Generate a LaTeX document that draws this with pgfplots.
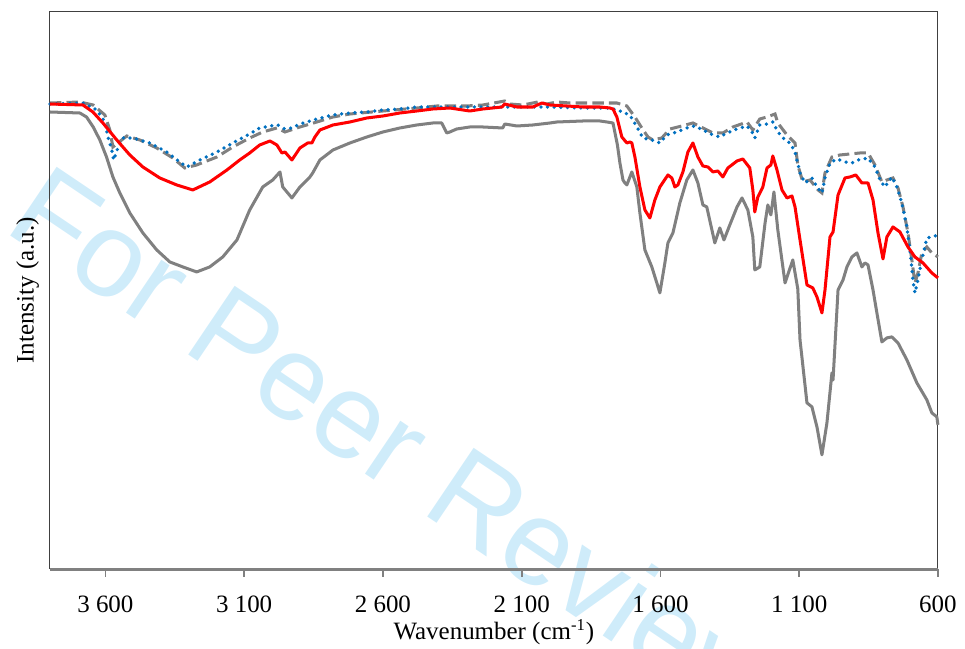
\documentclass[border=0pt]{standalone}
\usepackage{fontspec}
\setmainfont{Liberation Serif}
\newfontfamily\wmfont{Liberation Sans}
\usepackage{pgfplots}
\pgfplotsset{compat=1.18}
\definecolor{wmblue}{RGB}{207,236,250}
\definecolor{exblue}{RGB}{0,112,192}
\definecolor{exgray}{RGB}{128,128,128}
\begin{document}
\begin{tikzpicture}[font=\fontsize{12}{14}\selectfont]
\useasboundingbox (-24.0pt,-38.5pt) rectangle (440.0pt,273.5pt);
% watermark
\node[rotate=-34, anchor=base west, inner sep=0pt, text=wmblue,
      font=\fontsize{58}{62}\selectfont\wmfont] at (-23pt,163pt) {For Peer Review Only};
\begin{axis}[
  scale only axis, width=427pt, height=267.9pt,
  x dir=reverse, xmin=600, xmax=3800, ymin=0, ymax=557.4,
  axis line style={black!75, line width=0.5pt},
  xtick={600,1100,1600,2100,2600,3100,3600},
  xticklabels={600,1 100,1 600,2 100,2 600,3 100,3 600},
  xticklabel style={yshift=-5pt},
  ytick=\empty, xtick pos=bottom, tick align=outside,
  major tick length=3.8pt,
  every tick/.style={exgray, line width=0.8pt},
  /pgf/number format/assume math mode=true,
  xlabel={Wavenumber (cm\textsuperscript{-1})},
  ylabel={Intensity (a.u.)},
  xlabel style={at={(axis description cs:0.5,-0.113)}, anchor=center},
  ylabel style={at={(axis description cs:-0.025,0.5)}, anchor=center},
  clip=false,
  line width=1.45pt,
]
% sample 1 (solid gray)
\addplot[exgray, line join=round] coordinates {
(3800,457) (3692,456) (3668,452) (3644,442) (3620,429) (3596,412) (3573,392)
(3548,376) (3512,356) (3465,336) (3415,319) (3368,307) (3321,302) (3271,297)
(3224,302) (3177,312) (3126,329) (3080,359) (3033,382) (2997,389) (2971,397)
(2961,382) (2928,371) (2899,382) (2863,392) (2853,396) (2827,409) (2780,419)
(2719,426) (2658,432) (2600,437) (2539,441) (2478,444) (2420,446) (2388,446)
(2370,436) (2359,437) (2334,440) (2287,442) (2240,442) (2168,441) (2161,445)
(2117,443) (2060,444) (1998,446) (1973,447) (1879,448) (1818,448) (1793,447)
(1771,446) (1755,424) (1746,406) (1735,389) (1728,386) (1721,384) (1703,397)
(1685,382) (1674,356) (1656,319) (1631,302) (1613,286) (1602,276) (1584,306)
(1573,326) (1555,336) (1530,366) (1505,389) (1483,399) (1465,386) (1447,364)
(1433,362) (1404,326) (1386,341) (1371,329) (1350,344) (1324,362) (1306,371)
(1285,359) (1267,332) (1260,299) (1242,302) (1223,346) (1213,364) (1202,354)
(1191,377) (1177,339) (1151,286) (1123,309) (1105,280) (1097,229) (1072,166)
(1054,162) (1036,142) (1018,114) (1000,146) (982,196) (978,189) (960,279)
(942,289) (928,302) (910,312) (892,316) (874,302) (863,306) (852,304)
(834,279) (820,256) (802,227) (784,231) (766,232) (744,226) (712,209)
(676,186) (640,169) (622,156) (604,152) (600,144)
};
% sample 2 (dashed gray)
\addplot[exgray, dash pattern=on 5.5pt off 2.5pt] coordinates {
(3800,466) (3692,467) (3644,464) (3602,454) (3584,439) (3573,422) (3555,426)
(3523,433) (3476,429) (3415,421) (3357,411) (3314,401) (3271,404) (3198,412)
(3141,422) (3080,431) (3033,437) (2982,441) (2953,437) (2899,442) (2838,447)
(2780,452) (2719,455) (2600,458) (2478,461) (2406,463) (2359,463) (2300,463)
(2240,464) (2161,468) (2143,465) (2096,464) (2042,467) (2009,465) (1973,467)
(1926,466) (1879,466) (1757,466) (1721,463) (1692,452) (1667,441) (1645,432)
(1627,429) (1595,431) (1566,440) (1523,443) (1483,446) (1447,441) (1411,436)
(1375,436) (1339,442) (1288,447) (1267,439) (1242,450) (1216,452) (1187,455)
(1177,446) (1144,434) (1115,426) (1105,404) (1087,387) (1061,389) (1032,379)
(1018,376) (1007,396) (982,412) (953,414) (917,415) (881,416) (852,416)
(827,404) (802,387) (784,389) (762,391) (744,381) (726,362) (708,336)
(694,309) (683,286) (672,296) (658,316) (640,322) (622,316) (600,312)
};
% sample 3 (dotted blue)
\addplot[exblue, line cap=round, dash pattern=on 0pt off 3.2pt, line width=1.8pt] coordinates {
(3800,465) (3681,466) (3631,459) (3602,447) (3591,432) (3577,419) (3570,409)
(3555,421) (3537,431) (3501,431) (3440,426) (3379,417) (3332,407) (3307,402)
(3260,409) (3198,417) (3141,426) (3080,435) (3044,441) (3007,443) (2979,444)
(2953,440) (2928,441) (2899,445) (2838,450) (2780,454) (2719,456) (2658,457)
(2600,459) (2539,460) (2478,462) (2420,462) (2359,462) (2240,462) (2117,462)
(1998,462) (1879,461) (1782,461) (1746,458) (1710,454) (1685,442) (1663,431)
(1631,429) (1602,426) (1577,434) (1541,437) (1505,441) (1476,443) (1447,439)
(1411,434) (1386,432) (1360,436) (1324,440) (1288,443) (1270,437) (1260,431)
(1242,444) (1216,445) (1195,447) (1177,437) (1151,429) (1133,426) (1115,417)
(1097,396) (1079,386) (1054,391) (1036,382) (1018,376) (1007,391) (989,406)
(964,410) (935,407) (910,406) (888,409) (852,411) (827,402) (809,389)
(791,382) (766,392) (748,382) (730,366) (712,342) (701,319) (690,289)
(683,276) (672,289) (658,309) (640,331) (622,332) (600,334)
};
% sample 4 (solid red)
\addplot[red, line join=round] coordinates {
(3800,465) (3681,464) (3645,457) (3609,446) (3559,429) (3512,414) (3465,402)
(3404,391) (3343,384) (3285,379) (3224,387) (3162,399) (3116,409) (3080,416)
(3044,424) (3007,428) (2982,424) (2964,416) (2953,417) (2928,409) (2899,421)
(2871,426) (2856,426) (2845,432) (2827,439) (2780,444) (2719,447) (2658,451)
(2600,453) (2539,456) (2478,458) (2420,460) (2359,461) (2287,458) (2240,460)
(2171,462) (2161,465) (2117,462) (2060,462) (2027,466) (1998,464) (1937,463)
(1879,462) (1818,462) (1782,461) (1771,460) (1757,452) (1739,432) (1721,426)
(1710,427) (1703,426) (1692,412) (1674,382) (1656,359) (1638,351) (1620,369)
(1602,382) (1573,394) (1559,391) (1548,382) (1537,384) (1519,397) (1501,417)
(1483,426) (1465,412) (1447,403) (1429,402) (1411,397) (1393,398) (1375,392)
(1357,401) (1324,408) (1303,410) (1278,401) (1267,379) (1260,357) (1249,372)
(1231,382) (1216,401) (1202,404) (1195,413) (1180,399) (1162,379) (1144,371)
(1126,373) (1115,362) (1097,329) (1072,284) (1051,281) (1036,272) (1018,256)
(1007,279) (989,332) (978,337) (960,374) (935,391) (917,392) (896,394)
(874,386) (852,386) (834,369) (816,336) (798,310) (784,332) (762,342)
(737,337) (708,322) (683,312) (654,306) (622,296) (600,291)
};
\draw[exgray, line width=1.2pt] ([yshift=-0.4pt]rel axis cs:0,0) -- ([yshift=-0.4pt]rel axis cs:1,0);
\end{axis}
\end{tikzpicture}
\end{document}
